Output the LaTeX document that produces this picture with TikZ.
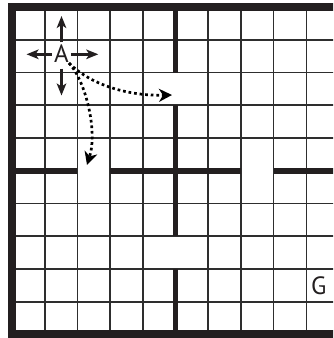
\documentclass[tikz,border=0pt]{standalone}
\usepackage{fontspec}
\setmainfont{PT Sans}
\usetikzlibrary{arrows.meta}
\definecolor{wallc}{HTML}{231F20}
\definecolor{gridc}{HTML}{2E2E2E}
\begin{document}
\begin{tikzpicture}[x=1pt,y=-1pt,
  gridline/.style={draw=gridc,line width=1.6pt},
  wall/.style={draw=wallc,line width=5.6pt,line cap=butt},
  outerwall/.style={draw=wallc,line width=8pt},
  lbl/.style={font=\fontsize{25}{25}\selectfont, text=wallc, inner sep=0pt},
  moveArrow/.style={draw=wallc,line width=2.6pt,-{Stealth[length=12pt,width=9.5pt,inset=3pt]}},
  trailArrow/.style={draw=black,line width=2.7pt,dash pattern=on 2.7pt off 2.9pt,-{Stealth[length=13pt,width=13pt,inset=4pt]}}]
\fill[white] (0,0) rectangle (333,338);
\useasboundingbox (0,0) rectangle (333,338);
\clip (0,0) rectangle (333,338);
% thin grid
\foreach \i in {1,2,3,4,6,7,8,9} {
  \draw[gridline] ({12+32.7*\i},7) -- ({12+32.7*\i},334);
  \draw[gridline] (12,{7+32.75*\i}) -- (339,{7+32.75*\i});
}
% inner walls
\draw[wall] (175.5,7) -- (175.5,72.5) (175.5,105.25) -- (175.5,236.25) (175.5,269) -- (175.5,334);
\draw[wall] (12,170.75) -- (77.4,170.75) (110.1,170.75) -- (240.9,170.75) (273.6,170.75) -- (339,170.75);
% outer walls
\draw[outerwall] (12,7) rectangle (339,334);
% labels
\node[lbl] (A) at (61.5,54) {A};
\node[lbl] (G) at (318.7,286) {G};
% arrow tips
\coordinate (Aup) at (61.5,16);
\coordinate (Aleft) at (26.5,54.3);
\coordinate (Aright) at (98.3,54.3);
\coordinate (Adown) at (61.5,95.5);
\coordinate (T1) at (172,95);
\coordinate (T2) at (87,165);
\draw[moveArrow,shorten <=2.5pt] (A.north -| Aup) -- (Aup);
\draw[moveArrow,shorten <=5.5pt] (A.south -| Adown) -- (Adown);
\draw[moveArrow,shorten <=2pt] (A.west |- Aleft) -- (Aleft);
\draw[moveArrow,shorten <=2pt] (A.east |- Aright) -- (Aright);
\draw[trailArrow] (A.south east) .. controls (92,86) and (130,96) .. (T1);
\draw[trailArrow] (A.south east) .. controls (85,80) and (98,130) .. (T2);
\end{tikzpicture}
\end{document}
